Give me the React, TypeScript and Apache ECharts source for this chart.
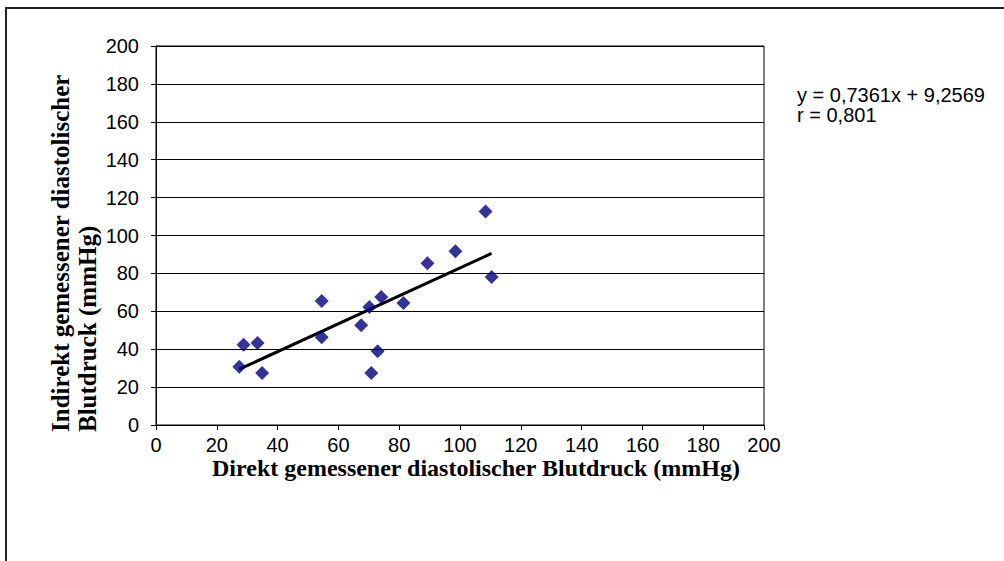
import React, { useEffect, useRef } from "react";
import * as echarts from "echarts";

const directValues = [27.4, 28.8, 33.4, 34.9, 54.5, 54.5, 67.5, 70.2, 74.1, 72.9, 70.8, 81.4, 89.3, 98.5, 108.4, 110.4];
const indirectValues = [30.7, 42.3, 43.3, 27.5, 65.4, 46.3, 52.6, 62.3, 67.5, 38.9, 27.5, 64.4, 85.4, 91.7, 112.6, 78.1];
const slope = 0.7361;
const intercept = 9.2569;
const equationLines = ["y = 0,7361x + 9,2569", "r = 0,801"];
const xTitle = "Direkt gemessener diastolischer Blutdruck (mmHg)";
const yTitleLines = ["Indirekt gemessener diastolischer", "Blutdruck (mmHg)"];

export default function App() {
  const ref = useRef<HTMLDivElement>(null);
  useEffect(() => {
    if (!ref.current) return;
    const chart = echarts.init(ref.current, null, { renderer: "svg" });
    const points = directValues.map((x, i) => [x, indirectValues[i]]);
    const xMin = Math.min(...directValues);
    const xMax = Math.max(...directValues);
    const trend = [
      [xMin, slope * xMin + intercept],
      [xMax, slope * xMax + intercept],
    ];
    const sans = "Arial, 'Liberation Sans', sans-serif";
    const serif = "'Times New Roman', 'Liberation Serif', serif";
    chart.setOption({
      animation: false,
      backgroundColor: "#fff",
      grid: {
        left: 156,
        right: 240,
        top: 46,
        bottom: 136,
        show: true,
        borderColor: "#000",
        borderWidth: 1,
        backgroundColor: "transparent",
      },
      xAxis: {
        type: "value",
        min: 0,
        max: 200,
        interval: 20,
        axisLine: { show: true, lineStyle: { color: "#000", width: 1 } },
        axisTick: { show: true, inside: false, length: 5, lineStyle: { color: "#000" } },
        axisLabel: { color: "#000", fontFamily: sans, fontSize: 20, margin: 10 },
        splitLine: { show: false },
      },
      yAxis: {
        type: "value",
        min: 0,
        max: 200,
        interval: 20,
        axisLine: { show: true, lineStyle: { color: "#000", width: 1 } },
        axisTick: { show: true, inside: false, length: 5, lineStyle: { color: "#000" } },
        axisLabel: { color: "#000", fontFamily: sans, fontSize: 20, margin: 17 },
        splitLine: { show: true, lineStyle: { color: "#000", width: 1 } },
      },
      series: [
        {
          type: "scatter",
          data: points,
          symbol: "diamond",
          symbolSize: 14,
          itemStyle: { color: "#000080" },
          z: 3,
        },
        {
          type: "line",
          data: trend,
          symbol: "none",
          lineStyle: { color: "#000", width: 3 },
          z: 2,
        },
      ],
      graphic: {
        elements: [
          {
            type: "rect",
            z: 100,
            shape: { x: 5, y: 7, width: 2, height: 554 },
            style: { fill: "#222222" },
          },
          {
            type: "rect",
            z: 100,
            shape: { x: 5, y: 7, width: 999, height: 2 },
            style: { fill: "#222222" },
          },
          {
            type: "text",
            x: 797,
            y: 85,
            style: {
              text: equationLines.join("\n"),
              font: `20px ${sans}`,
              fill: "#000",
              lineHeight: 20,
            },
          },
          {
            type: "text",
            x: 476,
            y: 468,
            style: {
              text: xTitle,
              font: `bold 24px ${serif}`,
              fill: "#000",
              textAlign: "center",
              textVerticalAlign: "middle",
            },
          },
          {
            type: "text",
            x: 60,
            y: 432,
            rotation: Math.PI / 2,
            style: {
              text: yTitleLines[0],
              font: `bold 25px ${serif}`,
              fill: "#000",
              textAlign: "left",
              textVerticalAlign: "middle",
            },
          },
          {
            type: "text",
            x: 87,
            y: 432,
            rotation: Math.PI / 2,
            style: {
              text: yTitleLines[1],
              font: `bold 25px ${serif}`,
              fill: "#000",
              textAlign: "left",
              textVerticalAlign: "middle",
            },
          },
        ],
      },
    });
    return () => chart.dispose();
  }, []);
  return <div ref={ref} style={{ position: "fixed", left: 0, top: 0, width: 1004, height: 561 }} />;
}
